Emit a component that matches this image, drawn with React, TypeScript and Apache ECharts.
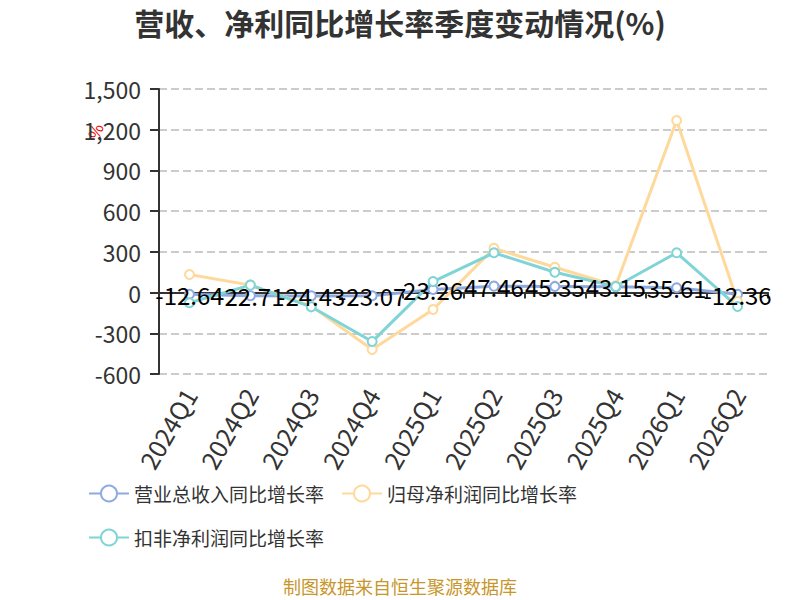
import React, { useEffect, useRef } from "react";
import * as echarts from "echarts";

const categories = ["2024Q1", "2024Q2", "2024Q3", "2024Q4", "2025Q1", "2025Q2", "2025Q3", "2025Q4", "2026Q1", "2026Q2"];
const revenueGrowth = [-12.64, -22.71, -24.43, -23.07, 23.26, 47.46, 45.35, 43.15, 35.61, -12.36];
const netProfitGrowth = [133, 55, -100, -420, -125, 326, 187, 50, 1268, -66];
const deductedProfitGrowth = [-75, 55, -105, -361, 81, 293, 150, 45, 293, -103];
const seriesNames = ["营业总收入同比增长率", "归母净利润同比增长率", "扣非净利润同比增长率"];
const titleText = "营收、净利同比增长率季度变动情况(%)";
const footerText = "制图数据来自恒生聚源数据库";

const FONT = "'Noto Sans CJK SC', 'Noto Sans', sans-serif";

export default function App() {
  const ref = useRef<HTMLDivElement>(null);
  useEffect(() => {
    document.body.style.margin = "0";
    if (!ref.current) return;
    const chart = echarts.init(ref.current, undefined, { renderer: "svg" });
    const mkSeries = (name: string, data: number[], color: string, withLabel: boolean) => ({
      name,
      type: "line",
      xAxisIndex: 0,
      yAxisIndex: 0,
      data,
      symbol: "emptyCircle",
      symbolSize: 9,
      lineStyle: { width: 3, color },
      itemStyle: { color, borderWidth: 2 },
      label: withLabel
        ? { show: true, position: "inside", fontSize: 24, color: "#000", fontFamily: FONT }
        : { show: false },
    });
    chart.setOption({
      animation: false,
      textStyle: { fontFamily: FONT },
      title: {
        text: titleText,
        left: "center",
        top: 2,
        textStyle: { fontSize: 30, fontWeight: "bold", color: "#333", fontFamily: FONT },
      },
      legend: {
        data: seriesNames,
        left: 83,
        top: 475,
        itemWidth: 40,
        itemHeight: 20,
        itemGap: 17,
        textStyle: { fontSize: 19, color: "#333", lineHeight: 27, fontFamily: FONT },
      },
      grid: { left: 159, right: 32, top: 89, bottom: 226, containLabel: false },
      xAxis: [
        {
          type: "category",
          data: categories,
          position: "bottom",
          axisLine: { show: false, onZero: false },
          axisTick: { show: false },
          axisLabel: { rotate: 60, fontSize: 25, color: "#333", margin: 16, interval: 0, fontFamily: FONT },
          splitLine: { show: false },
        },
        {
          type: "category",
          data: categories,
          position: "top",
          axisLine: { show: true, onZero: true, lineStyle: { color: "#333", width: 2 } },
          axisTick: { show: true, inside: true, length: 6, lineStyle: { color: "#333", width: 2 } },
          axisLabel: { show: false },
          splitLine: { show: false },
        },
      ],
      yAxis: {
        type: "value",
        min: -600,
        max: 1500,
        interval: 300,
        axisLine: { show: true, lineStyle: { color: "#333", width: 2 } },
        axisTick: { show: true, length: 9, lineStyle: { color: "#333", width: 2 } },
        axisLabel: {
          fontSize: 23,
          color: "#333",
          margin: 18,
          fontFamily: FONT,
          formatter: (v: number) => v.toLocaleString("en-US"),
        },
        splitLine: { show: true, lineStyle: { type: "dashed", color: "#ccc", width: 2 } },
      },
      series: [
        mkSeries(seriesNames[0], revenueGrowth, "#8eaadf", true),
        mkSeries(seriesNames[1], netProfitGrowth, "#ffd89b", false),
        mkSeries(seriesNames[2], deductedProfitGrowth, "#7fd4d6", false),
      ],
      graphic: [
        {
          type: "text",
          x: 95,
          y: 131,
          rotation: 1.2,
          style: { text: "%", fill: "#e00", fontSize: 16, textAlign: "center", textVerticalAlign: "middle", fontFamily: FONT },
        },
        {
          type: "text",
          left: "center",
          top: 577,
          style: { text: footerText, fill: "#c8962a", fontSize: 18, fontFamily: FONT },
        },
      ],
    });
    return () => chart.dispose();
  }, []);
  return <div ref={ref} style={{ width: 800, height: 600 }} />;
}
